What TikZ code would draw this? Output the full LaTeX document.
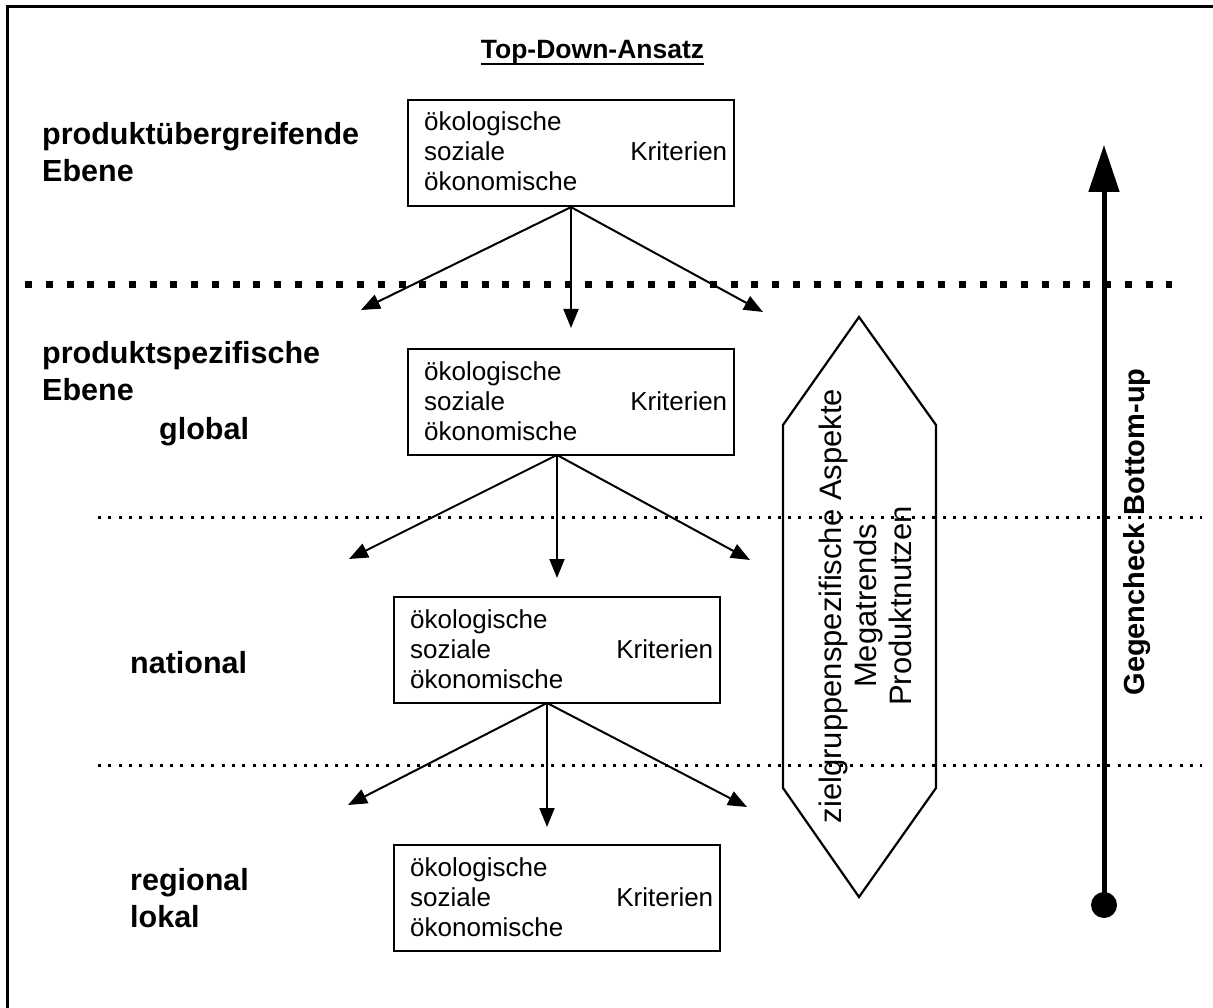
\documentclass[tikz,border=0pt]{standalone}
\usepackage{fontspec}
\setmainfont{Liberation Sans}
\usetikzlibrary{arrows.meta,calc}
\newcommand{\kriterientext}{\parbox[t]{303pt}{ökologische\\soziale\hfill Kriterien\\ökonomische}}
\newcommand{\twolines}[2]{\begin{tabular}[t]{@{}l@{}}#1\\#2\end{tabular}}
\begin{document}
\begin{tikzpicture}[x=1pt,y=-1pt,
  kbox/.style={draw,line width=2.2pt,minimum width=326pt,minimum height=106pt,inner sep=0pt},
  ktext/.style={anchor=base west,inner sep=0pt,font=\fontsize{26}{30}\selectfont},
  lab/.style={anchor=base west,inner sep=0pt,font=\fontsize{30.5}{37}\selectfont\bfseries},
  darrow/.style={line width=2pt,-{Triangle[length=19pt,width=15pt]}},
  bigdots/.style={line width=7pt,dash pattern=on 7pt off 13.75pt},
  smalldots/.style={line width=3pt,dash pattern=on 3pt off 7.3pt},
]
\useasboundingbox (0,0) rectangle (1213,1008);
% frame
\draw[line width=3pt] (7,1015) -- (7,7) -- (1220,7);

% title
\node[inner sep=0pt,anchor=base,font=\fontsize{26.5}{32}\selectfont\bfseries] (title) at (592.5,59) {Top-Down-Ansatz};
\draw[line width=2.5pt] ($(title.base west)+(0,5)$) -- ($(title.base east)+(0,5)$);

% level labels
\node[lab] (l1) at (42,145) {\twolines{produktübergreifende}{Ebene}};
\node[lab] (l2) at (42,363) {\twolines{produktspezifische}{Ebene}};
\node[lab] (l3) at (159,439) {global};
\node[lab] (l4) at (130,673) {national};
\node[lab] (l5) at (130,890) {\twolines{regional}{lokal}};

% separators
\draw[bigdots] (25,285) -- (1172,285);
\draw[smalldots] (98,517) -- (1202,517);
\draw[smalldots] (98,765) -- (1202,765);

% boxes
\node[kbox] (b1) at (571,153) {};
\node[ktext] (b1t) at (424,131) {\kriterientext};
\node[kbox] (b2) at (571,402) {};
\node[ktext] (b2t) at (424,380) {\kriterientext};
\node[kbox] (b3) at (557,650) {};
\node[ktext] (b3t) at (410,628) {\kriterientext};
\node[kbox] (b4) at (557,898) {};
\node[ktext] (b4t) at (410,876) {\kriterientext};

% arrows
\coordinate (t1a) at (361,310);
\coordinate (t1b) at (571,328);
\coordinate (t1c) at (763,312);
\draw[darrow] (b1.south) -- (t1a);
\draw[darrow] (b1.south) -- (t1b);
\draw[darrow] (b1.south) -- (t1c);

\coordinate (o2) at (557,455);
\coordinate (t2a) at (349,559);
\coordinate (t2b) at (557,578);
\coordinate (t2c) at (750,560);
\draw[darrow] (o2) -- (t2a);
\draw[darrow] (o2) -- (t2b);
\draw[darrow] (o2) -- (t2c);

\coordinate (o3) at (547,703);
\coordinate (t3a) at (348,805);
\coordinate (t3b) at (547,827);
\coordinate (t3c) at (747,807);
\draw[darrow] (o3) -- (t3a);
\draw[darrow] (o3) -- (t3b);
\draw[darrow] (o3) -- (t3c);

% hexagon
\draw[line width=2.2pt,line join=miter] (783,425) -- (859,317) -- (936,425) -- (936,788) -- (859,897) -- (783,788) -- cycle;
\node[rotate=90,align=center,inner sep=0pt,font=\fontsize{31}{35}\selectfont] (hx) at (865,606) {zielgruppenspezifische Aspekte\\Megatrends\\Produktnutzen};

% bottom-up arrow
\node[circle,fill,inner sep=0pt,minimum size=26pt] (dot) at (1104,905) {};
\coordinate (top) at (1104,145);
\draw[line width=5pt,-{Triangle[length=47pt,width=30pt]}] (dot.center) -- (top);
\node[rotate=90,inner sep=0pt,font=\fontsize{29}{34}\selectfont\bfseries] (gc) at (1137,532) {Gegencheck Bottom-up};
\end{tikzpicture}
\end{document}
